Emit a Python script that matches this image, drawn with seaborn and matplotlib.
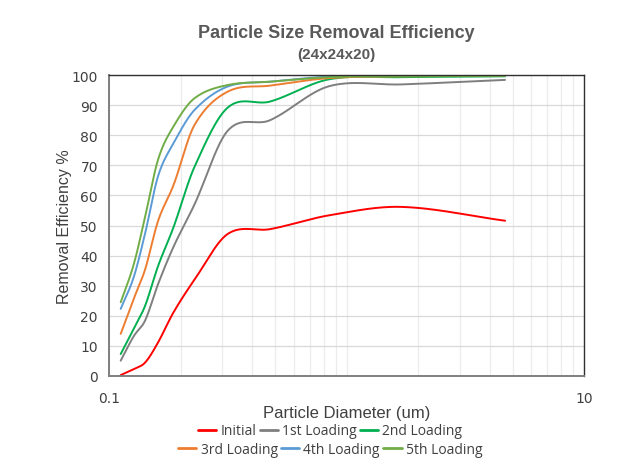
import matplotlib
matplotlib.use("Agg")
import matplotlib.pyplot as plt
import seaborn as sns
import numpy as np
import pandas as pd

# particle diameter channels (um)
diameter = [0.112, 0.127, 0.142, 0.161, 0.187, 0.229, 0.316, 0.476, 0.844, 1.70, 4.65]

initial = [0.3, 2.3, 4.5, 11.2, 21.2, 32.0, 47.2, 48.8, 53.4, 56.2, 51.6]
loading_1 = [5.1, 13.2, 18.5, 30.6, 43.0, 57.0, 81.5, 85.0, 96.3, 96.9, 98.4]
loading_2 = [7.3, 15.6, 23.4, 36.6, 49.5, 69.5, 89.2, 91.2, 98.6, 99.3, 99.6]
loading_3 = [14.0, 25.6, 35.5, 51.6, 63.5, 83.4, 94.5, 96.5, 99.0, 99.6, 99.8]
loading_4 = [22.3, 32.8, 47.5, 66.5, 77.4, 88.4, 96.2, 97.8, 99.5, 99.8, 99.9]
loading_5 = [24.5, 37.0, 53.0, 72.0, 83.0, 92.3, 96.7, 97.8, 99.3, 99.6, 99.7]

series_names = ["Initial", "1st Loading", "2nd Loading", "3rd Loading", "4th Loading", "5th Loading"]
series_values = [initial, loading_1, loading_2, loading_3, loading_4, loading_5]
colors = ["#ff0000", "#7f7f7f", "#00b050", "#ed7d31", "#5b9bd5", "#70ad47"]

df = pd.DataFrame({"Diameter": diameter})
for name, vals in zip(series_names, series_values):
    df[name] = vals
long_df = df.melt(id_vars="Diameter", var_name="Series", value_name="Efficiency")


def smooth(xs, ys, n=40):
    """Smoothed line like Excel's: cubic Hermite through the points in log-x."""
    u = np.log10(np.asarray(xs, dtype=float))
    v = np.asarray(ys, dtype=float)
    m = np.empty_like(v)
    m[1:-1] = (v[2:] - v[:-2]) / (u[2:] - u[:-2])
    m[0] = (v[1] - v[0]) / (u[1] - u[0])
    m[-1] = (v[-1] - v[-2]) / (u[-1] - u[-2])
    out_u, out_v = [], []
    for i in range(len(u) - 1):
        h = u[i + 1] - u[i]
        t = np.linspace(0, 1, n)
        if i > 0:
            t = t[1:]
        h00 = 2 * t ** 3 - 3 * t ** 2 + 1
        h10 = t ** 3 - 2 * t ** 2 + t
        h01 = -2 * t ** 3 + 3 * t ** 2
        h11 = t ** 3 - t ** 2
        out_u.append(u[i] + t * h)
        out_v.append(h00 * v[i] + h10 * h * m[i] + h01 * v[i + 1] + h11 * h * m[i + 1])
    return 10 ** np.concatenate(out_u), np.concatenate(out_v)


rows = []
for name in series_names:
    sub = long_df[long_df["Series"] == name]
    sx, sy = smooth(sub["Diameter"].values, sub["Efficiency"].values)
    rows.append(pd.DataFrame({"Diameter": sx, "Efficiency": sy, "Series": name}))
smooth_df = pd.concat(rows, ignore_index=True)

sns.set_theme(style="white")
plt.rcParams["font.family"] = ["DejaVu Sans"]

fig = plt.figure(figsize=(6.39, 4.64), dpi=100)
ax = fig.add_axes([0.1706, 0.1875, 0.7434, 0.6485])

sns.lineplot(data=smooth_df, x="Diameter", y="Efficiency", hue="Series",
             hue_order=series_names, palette=colors, sort=False,
             estimator=None, linewidth=1.4, ax=ax, legend=False)

ax.set_xscale("log")
ax.set_xlim(0.1, 10)
ax.set_ylim(0, 100)
ax.set_yticks(range(0, 101, 10))
ax.set_xticks([0.1, 10])
ax.set_xticklabels(["0.1", "10"])
ax.xaxis.set_minor_locator(matplotlib.ticker.LogLocator(base=10, subs=np.arange(1, 10)))
ax.xaxis.set_minor_formatter(matplotlib.ticker.NullFormatter())
ax.grid(True, which="major", axis="y", color="#d9d9d9", linewidth=0.9)
ax.grid(True, which="minor", axis="x", color="#ececec", linewidth=0.9)
ax.grid(True, which="major", axis="x", color="#ececec", linewidth=0.9)
ax.tick_params(axis="both", which="both", length=0, labelsize=10, labelcolor="#404040", pad=8)
ax.tick_params(axis="x", pad=11)

for side in ["top", "right"]:
    ax.spines[side].set_color("#303030")
    ax.spines[side].set_linewidth(1.0)
for side in ["left", "bottom"]:
    ax.spines[side].set_color("#7f7f7f")
    ax.spines[side].set_linewidth(1.4)

ax.set_xlabel("Particle Diameter (um)", fontsize=12, color="#404040", labelpad=0,
              family="Liberation Sans")
ax.set_ylabel("Removal Efficiency %", fontsize=11.5, color="#404040", labelpad=0,
              family="Liberation Sans")

fig.text(0.526, 0.928, "Particle Size Removal Efficiency", ha="center", va="center",
         fontsize=13, fontweight="bold", color="#595959", family="Liberation Sans")
fig.text(0.526, 0.882, "(24x24x20)", ha="center", va="center",
         fontsize=11, fontweight="bold", color="#595959", family="Liberation Sans")


# two legend rows, each centred on its own like the original
def legend_row(idx, y):
    handles = [matplotlib.lines.Line2D([], [], color=colors[i], linewidth=2) for i in idx]
    labels = [series_names[i] for i in idx]
    return fig.legend(handles, labels, loc="center", bbox_to_anchor=(0.517, y), ncol=3,
                      frameon=False, handlelength=1.3, handletextpad=0.3,
                      columnspacing=0.25, labelcolor="#404040", borderpad=0,
                      prop={"family": "Open Sans", "size": 10})


legend_row([0, 1, 2], 0.069)
legend_row([3, 4, 5], 0.030)

fig.savefig("out.png", dpi=100)
